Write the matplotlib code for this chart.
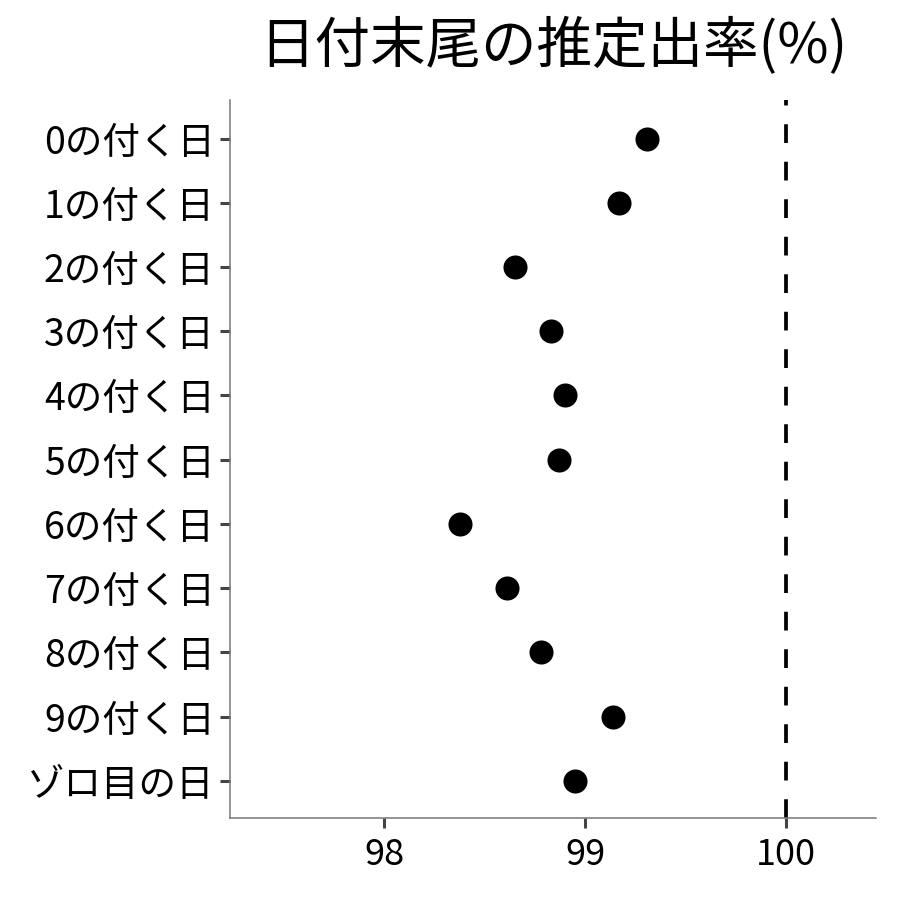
import matplotlib
matplotlib.use('Agg')
import matplotlib.pyplot as plt

plt.rcParams['font.family'] = ['Noto Sans CJK JP', 'DejaVu Sans']

labels = ['0の付く日', '1の付く日', '2の付く日', '3の付く日', '4の付く日',
          '5の付く日', '6の付く日', '7の付く日', '8の付く日', '9の付く日', 'ゾロ目の日']
rates = [99.31, 99.17, 98.65, 98.83, 98.90, 98.87, 98.38, 98.61, 98.78, 99.14, 98.95]
ref_line = 100
x_ticks = [98, 99, 100]

fig = plt.figure(figsize=(9, 9), dpi=100)
ax = fig.add_axes([0.2556, 0.0911, 0.7178, 0.7978])

ypos = list(range(len(labels)))
ax.scatter(rates, ypos, s=300, color='black', zorder=3, linewidths=0)
ax.axvline(ref_line, color='black', lw=2.7, linestyle=(0, (5, 5)))

ax.set_xlim(97.234, 100.448)
ax.set_ylim(len(labels) - 0.42, -0.6)
ax.set_yticks(ypos)
ax.set_yticklabels(labels)
ax.set_xticks(x_ticks)
ax.set_xticklabels([str(t) for t in x_ticks])

for s in ['top', 'right']:
    ax.spines[s].set_visible(False)
for s in ['left', 'bottom']:
    ax.spines[s].set_color('#777777')
    ax.spines[s].set_linewidth(1.1)
ax.tick_params(axis='both', length=7, width=2.2, color='#444444',
               labelcolor='black', pad=4)
ax.tick_params(axis='y', labelsize=27)
ax.tick_params(axis='x', labelsize=26, pad=7)

fig.text(0.6144, 0.948, '日付末尾の推定出率(%)', ha='center', va='center', fontsize=40)

fig.savefig('out.png', dpi=100)
